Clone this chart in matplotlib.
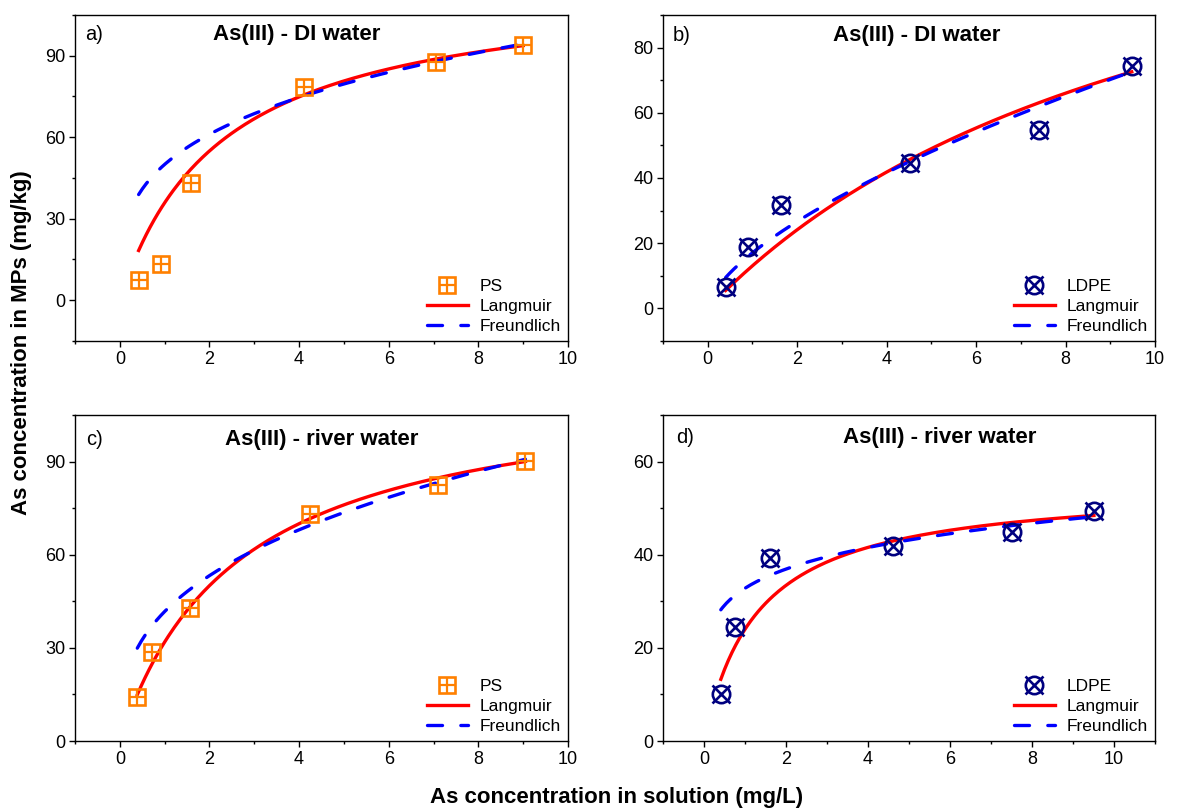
import matplotlib.pyplot as plt
import numpy as np
from matplotlib.lines import Line2D
from matplotlib.ticker import MultipleLocator

plt.rcParams["font.family"] = ["Liberation Sans", "DejaVu Sans"]

# equilibrium data: Ce (mg/L) and qe (mg/kg)
ce_ps_di = [0.42, 0.91, 1.58, 4.11, 7.05, 9.00]
qe_ps_di = [7.4, 13.3, 43.0, 78.4, 87.6, 93.8]
ce_ldpe_di = [0.40, 0.90, 1.63, 4.52, 7.41, 9.48]
qe_ldpe_di = [6.6, 18.9, 31.7, 44.7, 54.8, 74.5]
ce_ps_river = [0.39, 0.71, 1.56, 4.24, 7.09, 9.05]
qe_ps_river = [14.3, 28.6, 42.8, 73.1, 82.6, 90.2]
ce_ldpe_river = [0.41, 0.76, 1.60, 4.60, 7.52, 9.51]
qe_ldpe_river = [10.1, 24.4, 39.4, 41.8, 44.8, 49.3]

# fitted isotherm parameters: Langmuir (qmax, KL), Freundlich (KF, 1/n)
langmuir_params = [(117.4, 0.44), (156.7, 0.091), (116.4, 0.377), (55.0, 0.774)]
freundlich_params = [(50.0, 0.289), (17.06, 0.644), (41.7, 0.353), (32.8, 0.1705)]

panel_letters = ["a)", "b)", "c)", "d)"]
panel_titles = ["As(III) - DI water", "As(III) - DI water",
                "As(III) - river water", "As(III) - river water"]
materials = ["PS", "LDPE", "PS", "LDPE"]

ORANGE = "#FF8000"
NAVY = "#000080"
DASH = (0, (4.5, 5.5))

fig = plt.figure(figsize=(11.82, 8.10), dpi=100)

W, H = 1182, 810
boxes = [(75, 15, 568, 341), (663, 15, 1155, 341),
         (75, 415, 568, 741), (663, 415, 1155, 741)]
ylims = [(-15, 105), (-10, 90), (0, 105), (0, 70)]
xlims = [(-1, 10), (-1, 10), (-1, 10), (-1, 11)]
ymajor = [30, 20, 30, 20]
title_pos = [(0.45, 0.939), (0.516, 0.936), (0.50, 0.926), (0.563, 0.931)]
letter_x = [0.02, 0.02, 0.022, 0.026]

datasets = [(ce_ps_di, qe_ps_di), (ce_ldpe_di, qe_ldpe_di),
            (ce_ps_river, qe_ps_river), (ce_ldpe_river, qe_ldpe_river)]

for i, (l, t, r, b) in enumerate(boxes):
    ax = fig.add_axes([l / W, 1 - b / H, (r - l) / W, (b - t) / H])
    ce, qe = datasets[i]
    c = np.linspace(ce[0], ce[-1], 200)

    qm, kl = langmuir_params[i]
    kf, inv_n = freundlich_params[i]
    lang = qm * kl * c / (1 + kl * c)
    freu = kf * c ** inv_n

    ax.plot(c, lang, color="red", lw=2.4, zorder=3)
    ax.plot(c, freu, color="blue", lw=2.4, ls=DASH,
            dash_capstyle="round", zorder=3)

    if materials[i] == "PS":
        m1 = ax.plot(ce, qe, ls="none", marker="s", ms=11.5, mfc="none",
                     mec=ORANGE, mew=1.9, zorder=4)[0]
        m2 = ax.plot(ce, qe, ls="none", marker="+", ms=11.5,
                     mec=ORANGE, mew=1.6, zorder=4)[0]
    else:
        m1 = ax.plot(ce, qe, ls="none", marker="o", ms=12.5, mfc="none",
                     mec=NAVY, mew=1.9, zorder=4)[0]
        m2 = ax.plot(ce, qe, ls="none", marker="x", ms=12.5,
                     mec=NAVY, mew=1.9, zorder=4)[0]

    h_lang = Line2D([], [], color="red", lw=2.4)
    h_freu = Line2D([], [], color="blue", lw=2.4, ls=DASH,
                    dash_capstyle="round")
    ax.legend([(m1, m2), h_lang, h_freu], [materials[i], "Langmuir", "Freundlich"],
              loc="lower right", frameon=False, fontsize=12.5, numpoints=1,
              handlelength=2.35, handletextpad=0.7, labelspacing=0.28,
              borderpad=0.2, borderaxespad=0.2)

    ax.set_xlim(*xlims[i])
    ax.set_ylim(*ylims[i])
    ax.xaxis.set_major_locator(MultipleLocator(2))
    ax.xaxis.set_minor_locator(MultipleLocator(1))
    ax.yaxis.set_major_locator(MultipleLocator(ymajor[i]))
    ax.yaxis.set_minor_locator(MultipleLocator(ymajor[i] / 2))
    ax.tick_params(which="both", direction="out", width=1.0, labelsize=13,
                   top=False, right=False, pad=2.5)
    ax.tick_params(which="major", length=4.5)
    ax.tick_params(which="minor", length=2.5)
    for s in ax.spines.values():
        s.set_linewidth(1.0)

    tx, ty = title_pos[i]
    ax.text(tx, ty, panel_titles[i], transform=ax.transAxes, ha="center",
            va="center", fontsize=16, fontweight="bold")
    ax.text(letter_x[i], ty, panel_letters[i], transform=ax.transAxes,
            ha="left", va="center", fontsize=14.5)

fig.text(22 / W, 1 - 343 / H, "As concentration in MPs (mg/kg)", rotation=90,
         ha="center", va="center", fontsize=16, fontweight="bold")
fig.text(617 / W, 1 - 797 / H, "As concentration in solution (mg/L)",
         ha="center", va="center", fontsize=16, fontweight="bold")

fig.savefig("out.png", dpi=100)
